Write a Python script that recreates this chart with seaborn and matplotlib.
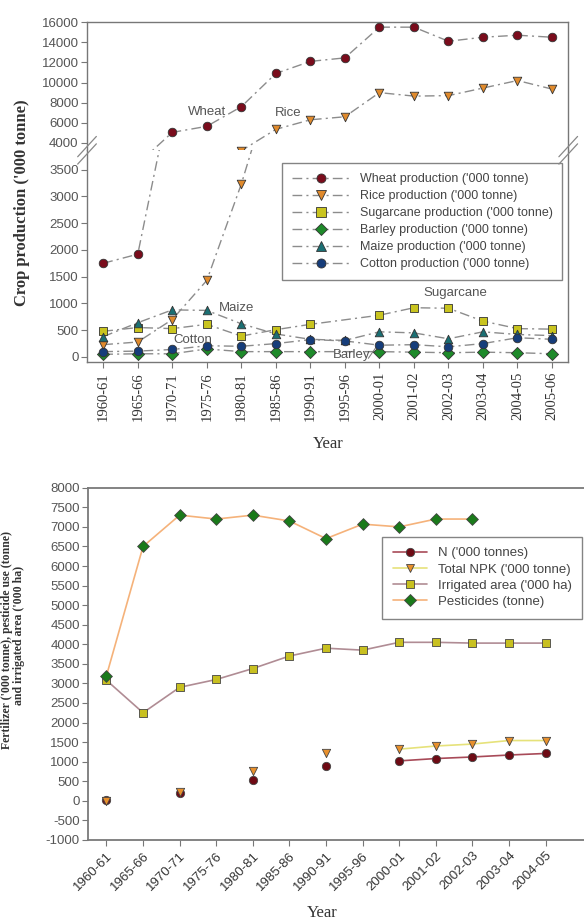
import matplotlib
matplotlib.use("Agg")
import matplotlib.pyplot as plt
from matplotlib.lines import Line2D
import numpy as np
import pandas as pd
import seaborn as sns

nan = np.nan

# ---- top panel: crop production ('000 tonne)
years_top = ["1960-61", "1965-66", "1970-71", "1975-76", "1980-81", "1985-86", "1990-91",
             "1995-96", "2000-01", "2001-02", "2002-03", "2003-04", "2004-05", "2005-06"]
wheat = [1750, 1920, 5050, 5650, 7600, 10900, 12100, 12450, 15500, 15500, 14100, 14500, 14700, 14500]
rice = [230, 280, 700, 1430, 3230, 5350, 6300, 6600, 9000, 8650, 8700, 9450, 10200, 9350]
sugarcane = [480, 550, 530, 610, 390, 510, 610, nan, 780, 920, 910, 670, 530, 520]
barley = [50, 60, 60, 150, 100, 100, 100, nan, 100, 90, 80, 90, 80, 60]
maize = [380, 640, 880, 870, 620, 430, 330, 310, 470, 450, 340, 470, 420, 400]
cotton = [100, 110, 140, 210, 200, 250, 325, 300, 220, 230, 190, 250, 360, 330]

# ---- bottom panel: inputs
years_bot = ["1960-61", "1965-66", "1970-71", "1975-76", "1980-81", "1985-86", "1990-91",
             "1995-96", "2000-01", "2001-02", "2002-03", "2003-04", "2004-05"]
n_cons = [20, nan, 190, nan, 530, nan, 890, nan, 1020, 1080, 1120, 1170, 1210]
npk = [0, nan, 220, nan, 760, nan, 1220, nan, 1320, 1400, 1450, 1540, 1540]
irrigated = [3080, 2250, 2900, 3100, 3380, 3700, 3900, 3850, 4050, 4050, 4030, 4030, 4030]
pesticides = [3200, 6500, 7300, 7200, 7300, 7150, 6700, 7070, 7000, 7200, 7200, nan, nan]

crop_series = [
    ("Wheat production ('000 tonne)", wheat, "o", "#7a0c1c"),
    ("Rice production ('000 tonne)", rice, "v", "#e08a2c"),
    ("Sugarcane production ('000 tonne)", sugarcane, "s", "#c9c41f"),
    ("Barley production ('000 tonne)", barley, "D", "#1e8a2a"),
    ("Maize production ('000 tonne)", maize, "^", "#1b6f73"),
    ("Cotton production ('000 tonne)", cotton, "o", "#163d7a"),
]
input_series = [
    ("N ('000 tonnes)", n_cons, "o", "#6e0a14", "#a84a58"),
    ("Total NPK ('000 tonne)", npk, "v", "#e8902c", "#e6e27a"),
    ("Irrigated area ('000 ha)", irrigated, "s", "#c8c020", "#b08c94"),
    ("Pesticides (tonne)", pesticides, "D", "#1a7a1a", "#f5b27a"),
]

sns.set_theme(style="white")
plt.rcParams["font.family"] = ["Liberation Sans", "DejaVu Sans"]
plt.rcParams["axes.unicode_minus"] = False
SERIF = ["Liberation Serif", "DejaVu Serif"]
GREY_LINE = "#8c8c8c"
DASHDOT = (0, (7, 3, 1.5, 3))
TICK_GREY = "#555555"

fig = plt.figure(figsize=(5.84, 9.22), dpi=100)
ax_hi = fig.add_axes([0.149, 0.837, 0.824, 0.139])
ax_lo = fig.add_axes([0.149, 0.607, 0.824, 0.230])
ax_b = fig.add_axes([0.151, 0.089, 0.849, 0.382])

# ---------- top panel (broken axis: both halves get all data, clipping does the rest)
handles = []
for name, vals, mk, col in crop_series:
    d = pd.DataFrame({"x": np.arange(len(years_top)), "y": vals}).dropna()
    for ax in (ax_hi, ax_lo):
        sns.lineplot(data=d, x="x", y="y", ax=ax, color=GREY_LINE, linestyle=DASHDOT,
                     linewidth=1, estimator=None, errorbar=None, zorder=2)
        sns.scatterplot(data=d, x="x", y="y", ax=ax, marker=mk, color=col, edgecolor="#333333",
                        linewidth=0.6, s=38, zorder=3)
    handles.append(Line2D([], [], color=GREY_LINE, linestyle=DASHDOT, linewidth=1, marker=mk,
                          markerfacecolor=col, markeredgecolor="#333333", markersize=6.5,
                          markeredgewidth=0.6, label=name))

for ax in (ax_hi, ax_lo):
    ax.set_xlim(-0.47, len(years_top) - 0.53)
    ax.set_xlabel("")
    ax.set_ylabel("")
    for sp in ax.spines.values():
        sp.set_color("#777777")
        sp.set_linewidth(1)
    ax.tick_params(axis="y", direction="out", length=4, width=0.8, color="#777777",
                   labelsize=9.5, labelcolor=TICK_GREY, left=True, pad=2)

ax_hi.set_ylim(3270, 16000)
ax_hi.set_yticks(np.arange(4000, 16001, 2000))
ax_hi.set_xticks([])
ax_hi.spines["bottom"].set_visible(False)

ax_lo.set_ylim(-100, 3860)
ax_lo.set_yticks(np.arange(0, 3501, 500))
ax_lo.spines["top"].set_visible(False)
ax_lo.set_xticks(np.arange(len(years_top)))
ax_lo.set_xticklabels(years_top, rotation=90, fontfamily=SERIF, fontsize=10.5, color="#333333")
ax_lo.tick_params(axis="x", direction="out", length=4, width=0.8, color="#777777", bottom=True, pad=3)

# break marks
for xf in (0.149, 0.973):
    for off in (-0.004, 0.004):
        fig.add_artist(Line2D([xf - 0.016, xf + 0.016], [0.837 + off - 0.011, 0.837 + off + 0.011],
                              color="#888888", linewidth=0.9, transform=fig.transFigure))

# series labels
lab_kw = dict(fontsize=9.5, color="#555555", ha="center", va="center")
ax_hi.text(3.0, 7050, "Wheat", **lab_kw)
ax_hi.text(5.35, 7000, "Rice", **lab_kw)
ax_lo.text(3.85, 910, "Maize", **lab_kw)
ax_lo.text(2.6, 310, "Cotton", **lab_kw)
ax_lo.text(10.2, 1190, "Sugarcane", **lab_kw)
ax_lo.text(7.2, 40, "Barley", **lab_kw)
ax_lo.plot([7.68, 7.9], [-25, 180], color="#777777", linewidth=0.7)

leg = ax_lo.legend(handles=handles, loc="upper right", bbox_to_anchor=(0.988, 0.94),
                   borderaxespad=0, fontsize=9, handlelength=4.6, labelspacing=0.4,
                   frameon=True, fancybox=False, edgecolor="#666666", borderpad=0.8)
for t in leg.get_texts():
    t.set_color("#444444")

fig.text(22 / 584, 1 - 203 / 922, "Crop production ('000 tonne)", rotation=90, ha="center",
         va="center", fontfamily=SERIF, fontweight="bold", fontsize=12, color="#333333")
fig.text(328 / 584, 1 - 444 / 922, "Year", ha="center", va="center", fontfamily=SERIF,
         fontsize=12, color="#333333")

# ---------- bottom panel
bhandles = []
for name, vals, mk, mcol, lcol in input_series:
    d = pd.DataFrame({"x": np.arange(len(years_bot)), "y": vals})
    d["seg"] = d["y"].isna().cumsum()
    d = d.dropna()
    for _, g in d.groupby("seg"):
        if len(g) > 1:
            sns.lineplot(data=g, x="x", y="y", ax=ax_b, color=lcol, linewidth=1.2,
                         estimator=None, errorbar=None, zorder=2)
    sns.scatterplot(data=d, x="x", y="y", ax=ax_b, marker=mk, color=mcol, edgecolor="#444444",
                    linewidth=0.6, s=36, zorder=3)
    bhandles.append(Line2D([], [], color=lcol, linewidth=1.2, marker=mk, markerfacecolor=mcol,
                           markeredgecolor="#444444", markersize=6, markeredgewidth=0.6, label=name))

ax_b.set_xlim(-0.5, 13.05)
ax_b.set_ylim(-1000, 8000)
ax_b.set_yticks(np.arange(-1000, 8001, 500))
ax_b.set_xticks(np.arange(len(years_bot)))
ax_b.set_xticklabels(years_bot, rotation=45, ha="right", rotation_mode="anchor",
                     fontsize=9.5, color="#333333")
ax_b.set_xlabel("")
ax_b.set_ylabel("")
ax_b.spines["right"].set_visible(False)
for sp in ("left", "bottom", "top"):
    ax_b.spines[sp].set_color("#7a7a7a")
    ax_b.spines[sp].set_linewidth(1.3)
ax_b.tick_params(axis="y", direction="out", length=4, width=0.8, color="#777777",
                 labelsize=9.5, labelcolor=TICK_GREY, left=True, pad=2)
ax_b.tick_params(axis="x", direction="out", length=4, width=0.8, color="#777777", bottom=True, pad=3)

bleg = ax_b.legend(handles=bhandles, loc="upper right", bbox_to_anchor=(0.996, 0.861),
                   borderaxespad=0, fontsize=9.5, handlelength=2.6, labelspacing=0.3,
                   frameon=True, fancybox=False, edgecolor="#666666", borderpad=0.8)
for t in bleg.get_texts():
    t.set_color("#444444")

fig.text(7 / 584, 1 - 640 / 922, "Fertilizer ('000 tonne), pesticide use (tonne)", rotation=90,
         ha="center", va="center", fontfamily=SERIF, fontweight="bold", fontsize=8.5, color="#333333")
fig.text(19 / 584, 1 - 635 / 922, "and irrigated area ('000 ha)", rotation=90, ha="center",
         va="center", fontfamily=SERIF, fontweight="bold", fontsize=8.5, color="#333333")
fig.text(322 / 584, 1 - 913 / 922, "Year", ha="center", va="center", fontfamily=SERIF,
         fontsize=12, color="#333333")

fig.savefig("out.png", dpi=100)
